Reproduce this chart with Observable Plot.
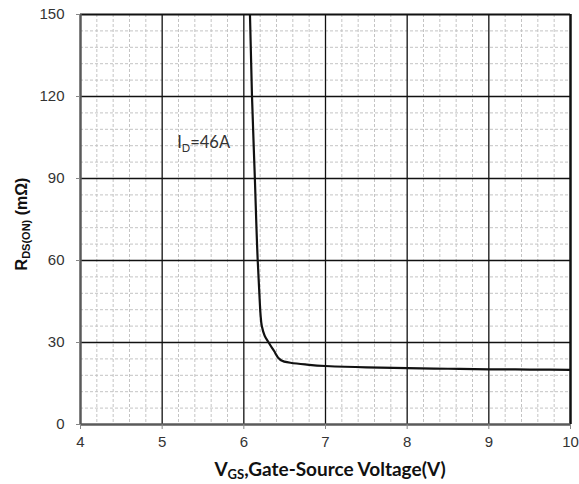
<!DOCTYPE html>
<html>
<head>
<meta charset="utf-8">
<script src="https://cdn.jsdelivr.net/npm/d3@7"></script>
<script src="https://cdn.jsdelivr.net/npm/@observablehq/plot@0.6"></script>
<style>
  html, body { margin: 0; padding: 0; background: #fff; }
  #chart { width: 579px; height: 484px; }
</style>
</head>
<body>
<div id="chart"></div>
<script>
// Tick values
const xMajor = [4, 5, 6, 7, 8, 9, 10];
const yMajor = [0, 30, 60, 90, 120, 150];
const xMinor = [4.2, 4.4, 4.6, 4.8, 5.2, 5.4, 5.6, 5.8, 6.2, 6.4, 6.6, 6.8, 7.2, 7.4, 7.6, 7.8, 8.2, 8.4, 8.6, 8.8, 9.2, 9.4, 9.6, 9.8];
const yMinor = [6, 12, 18, 24, 36, 42, 48, 54, 66, 72, 78, 84, 96, 102, 108, 114, 126, 132, 138, 144];

// Curve: VGS (V) vs RDS(ON) (mOhm), ID = 46A
const vgs = [6.075, 6.10, 6.135, 6.17, 6.195, 6.205, 6.22, 6.255, 6.30, 6.37, 6.45, 6.57, 6.75, 7.0, 7.5, 8.0, 8.5, 9.0, 9.5, 10.0];
const rds = [150, 120, 90, 60, 45, 40, 36, 32.5, 30.2, 26.9, 23.6, 22.6, 22.0, 21.4, 20.9, 20.6, 20.4, 20.2, 20.1, 20.0];

const annotation = { x: 5.19, y: 101, main: "I", sub: "D", rest: "=46A" };

const data = vgs.map((v, i) => ({ v, r: rds[i] }));

const plot = Plot.plot({
  width: 579,
  height: 484,
  marginLeft: 80,
  marginRight: 9,
  marginTop: 14,
  marginBottom: 60,
  style: { fontFamily: "'Liberation Sans', Arial, sans-serif", fontSize: "15px", color: "#333", background: "#fff" },
  x: { domain: [4, 10], label: null },
  y: { domain: [0, 150], label: null },
  marks: [
    Plot.ruleX(xMinor, { stroke: "#c4c4c4", strokeWidth: 1, strokeDasharray: "3,2" }),
    Plot.ruleY(yMinor, { stroke: "#c4c4c4", strokeWidth: 1, strokeDasharray: "3,2" }),
    Plot.ruleX(xMajor.slice(1, -1), { stroke: "#111", strokeWidth: 1.3 }),
    Plot.ruleY(yMajor.slice(1, -1), { stroke: "#111", strokeWidth: 1.3 }),
    Plot.ruleY([150], { stroke: "#111", strokeWidth: 2 }),
    Plot.ruleX([10], { stroke: "#111", strokeWidth: 2.5 }),
    Plot.ruleX([4], { stroke: "#5a5a5a", strokeWidth: 2.5 }),
    Plot.ruleY([0], { stroke: "#5a5a5a", strokeWidth: 2.5 }),
    Plot.axisX({ ticks: xMajor, tickFormat: d3.format("d"), tickSize: 5, tickPadding: 7, stroke: "#888", fill: "#333", fontSize: 15 }),
    Plot.axisY({ ticks: yMajor, tickFormat: d3.format("d"), tickSize: 4, tickPadding: 12, stroke: "#888", fill: "#333", fontSize: 15 }),
    Plot.line(data, { x: "v", y: "r", curve: "monotone-y", stroke: "#111", strokeWidth: 2.2, clip: true })
  ]
});

document.getElementById("chart").appendChild(plot);

const svg = d3.select(plot);
const sx = plot.scale("x"), sy = plot.scale("y");

// Annotation ID=46A
const ann = svg.append("text")
  .attr("x", sx.apply(annotation.x))
  .attr("y", sy.apply(annotation.y))
  .attr("text-anchor", "start")
  .attr("font-family", "Lato, 'Open Sans', sans-serif")
  .attr("font-size", 16.5)
  .attr("fill", "#333");
ann.append("tspan").text(annotation.main);
ann.append("tspan").attr("font-size", 11).attr("dy", 4).text(annotation.sub);
ann.append("tspan").attr("dy", -4).text(annotation.rest);

// X axis title
const xt = svg.append("text")
  .attr("x", 330)
  .attr("y", 476)
  .attr("text-anchor", "middle")
  .attr("font-family", "Lato, 'Open Sans', sans-serif")
  .attr("font-weight", "bold")
  .attr("font-size", 19)
  .attr("fill", "#111");
xt.append("tspan").text("V");
xt.append("tspan").attr("font-size", 13).attr("dy", 3).text("GS");
xt.append("tspan").attr("dy", -3).text(",Gate-Source Voltage(V)");

// Y axis title
const yt = svg.append("text")
  .attr("transform", "translate(27,224) rotate(-90)")
  .attr("text-anchor", "middle")
  .attr("font-family", "'Liberation Sans', Arial, sans-serif")
  .attr("font-weight", "bold")
  .attr("font-size", 16)
  .attr("fill", "#111");
yt.append("tspan").text("R");
yt.append("tspan").attr("font-size", 11).attr("dy", 3).text("DS(ON)");
yt.append("tspan").attr("dy", -3).text(" (mΩ)");
</script>
</body>
</html>
